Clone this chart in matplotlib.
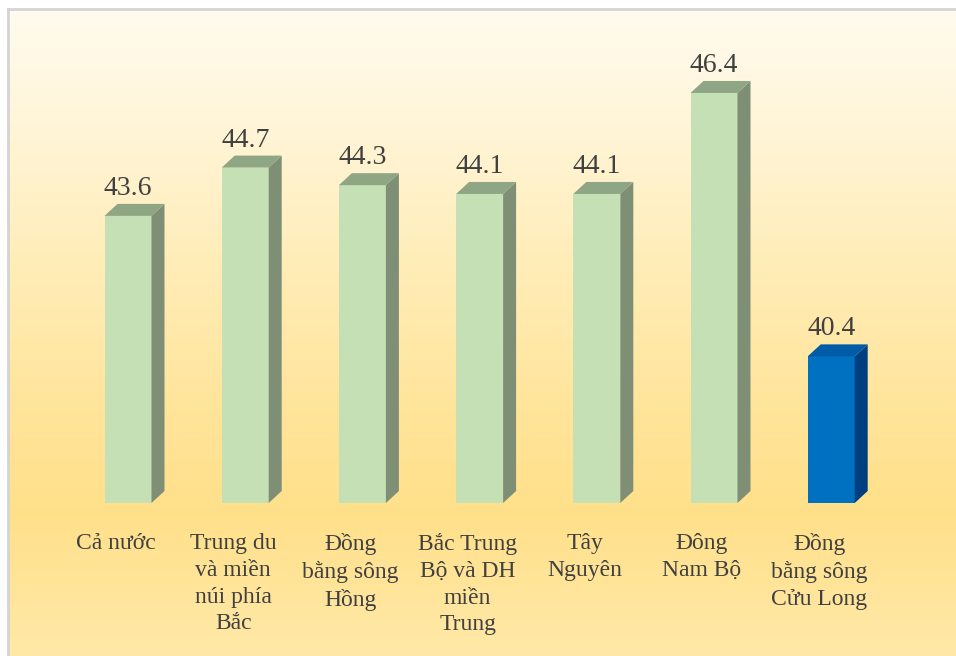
import numpy as np
import matplotlib.pyplot as plt
from matplotlib.patches import Polygon
from matplotlib.colors import LinearSegmentedColormap

# data
regions = ['Cả nước', 'Trung du\nvà miền\nnúi phía\nBắc', 'Đồng\nbằng sông\nHồng',
           'Bắc Trung\nBộ và DH\nmiền\nTrung', 'Tây\nNguyên', 'Đông\nNam Bộ',
           'Đồng\nbằng sông\nCửu Long']
values = [43.6, 44.7, 44.3, 44.1, 44.1, 46.4, 40.4]
highlight = [False, False, False, False, False, False, True]

W, H = 956, 656
fig = plt.figure(figsize=(W / 100, H / 100), dpi=100)
fig.patch.set_facecolor('white')

# background gradient inside the frame
bg = fig.add_axes([8 / W, 0, 1 - 8 / W, 1 - 9 / H])
bg.set_axis_off()
grad = LinearSegmentedColormap.from_list(
    'bg', [(0.0, '#fffbee'), (0.15, '#fff6dc'), (0.39, '#ffedb8'),
           (0.62, '#ffe49a'), (0.78, '#ffe08a'), (1.0, '#ffe9a8')])
bg.imshow(np.linspace(0, 1, 256).reshape(-1, 1), cmap=grad, aspect='auto',
          extent=[0, 1, 1, 0], interpolation='bilinear')
bg.set_xlim(0, 1)
bg.set_ylim(1, 0)
fig.add_artist(plt.Line2D([8 / W, 8 / W], [0, 1 - 9 / H], transform=fig.transFigure,
                          color='#d4d4d4', lw=2))
fig.add_artist(plt.Line2D([8 / W, 1], [1 - 9 / H, 1 - 9 / H], transform=fig.transFigure,
                          color='#d4d4d4', lw=2))

# main axes in pixel-matched data coords
ax = fig.add_axes([0, 0, 1, 1])
ax.patch.set_alpha(0)
ax.set_axis_off()
step = 117.2           # px between bars
ppu = 43.9             # px per unit
x0 = 128               # px center of first bar
base = 37.06
ax.set_xlim(-x0 / step, (W - x0) / step)
ax.set_ylim(base - (H - 503) / ppu, base + 503 / ppu)

bw = 47 / step
dx = 13 / step
dy = 12 / ppu

for i, (v, hl) in enumerate(zip(values, highlight)):
    front, side, top = ('#0070c0', '#003f7f', '#005ca6') if hl else ('#c5e0b4', '#7e8f76', '#8ea684')
    l, r = i - bw / 2, i + bw / 2
    ax.bar(i, v - base, bottom=base, width=bw, color=front, zorder=3)
    ax.add_patch(Polygon([(r, base), (r + dx, base + dy), (r + dx, v + dy), (r, v)],
                         closed=True, facecolor=side, edgecolor='none', zorder=3))
    ax.add_patch(Polygon([(l, v), (l + dx, v + dy), (r + dx, v + dy), (r, v)],
                         closed=True, facecolor=top, edgecolor='none', zorder=3))
    ax.text(i, v + dy + 3 / ppu, f'{v:.1f}', ha='center', va='bottom',
            fontsize=20, family='Liberation Serif', color='#404040', zorder=4)
    ax.text(i - 12 / step, base - 30 / ppu, regions[i], ha='center', va='top',
            fontsize=17, family='Liberation Serif', color='#404040',
            linespacing=1.36, zorder=4)

fig.savefig('out.png', dpi=100)
